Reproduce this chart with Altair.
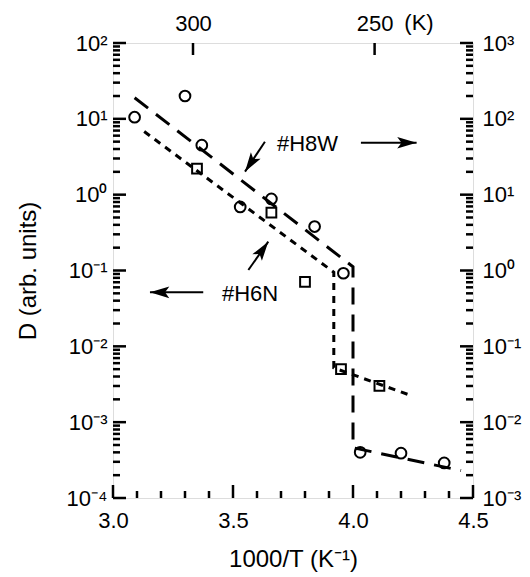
import math
import altair as alt
import pandas as pd

FONT = "Liberation Sans"

# ---------------- data ----------------
# #H8W : circles, plotted against the right-hand axis
H8W_INV_T = [3.09, 3.30, 3.37, 3.53, 3.66, 3.84, 3.96, 4.03, 4.20, 4.38]
H8W_D = [105, 200, 45, 6.9, 8.8, 3.8, 0.92, 0.0040, 0.0039, 0.0029]
H8W_FIT_INV_T = [3.09, 4.00, 4.00, 4.45]
H8W_FIT_D = [190, 1.12, 0.0046, 0.0023]

# #H6N : squares, plotted against the left-hand axis
H6N_INV_T = [3.35, 3.66, 3.80, 3.95, 4.11]
H6N_D = [2.2, 0.58, 0.071, 0.0050, 0.0030]
H6N_FIT_INV_T = [3.13, 3.92, 3.92, 4.25]
H6N_FIT_D = [6.8, 0.095, 0.0052, 0.0022]

# axes
X_DOMAIN = [3.0, 4.5]
LEFT_DOMAIN = [1e-4, 1e2]
RIGHT_DOMAIN = [1e-3, 1e3]
X_LABELS = [3.0, 3.5, 4.0, 4.5]
LEFT_DECADES = list(range(-4, 3))
RIGHT_DECADES = list(range(-3, 4))
TOP_T_LABELS = [300, 250]
TOP_T_POS = [1000 / 300, 4.09]

# annotations (left-axis units)
NOTE_TEXT = ["#H8W", "#H6N"]
NOTE_X = [3.683, 3.454]
NOTE_Y = [4.59, 0.0497]
ARROW_X0 = [3.633, 4.033, 3.376, 3.564]
ARROW_Y0 = [4.99, 4.84, 0.0515, 0.1016]
ARROW_X1 = [3.55, 4.265, 3.154, 3.647]
ARROW_Y1 = [2.01, 4.84, 0.0515, 0.24]

# ---------------- layout ----------------
W, H = 360, 455
MAJ, MIN = 13, 7
TICK_W = 2.5
LBL, TTL = 22, 24


def px(xv, yv):
    return ((xv - X_DOMAIN[0]) / (X_DOMAIN[1] - X_DOMAIN[0]) * W,
            (math.log10(LEFT_DOMAIN[1]) - math.log10(yv))
            / (math.log10(LEFT_DOMAIN[1]) - math.log10(LEFT_DOMAIN[0])) * H)


xs = alt.Scale(domain=X_DOMAIN, nice=False, zero=False)
ysL = alt.Scale(type="log", domain=LEFT_DOMAIN, nice=False)
ysR = alt.Scale(type="log", domain=RIGHT_DOMAIN, nice=False)

SUP = ("'10' + replace(replace(replace(replace(replace(replace(replace("
       "'' + round(log(datum.value) / LN10), '-', '⁻'), '0', '⁰'), '1', '¹'),"
       " '2', '²'), '3', '³'), '4', '⁴'), '5', '⁵')")

common = dict(ticks=False, domain=False, grid=False, labelFlush=False,
              labelOverlap=False, labelFont=FONT, titleFont=FONT,
              labelFontSize=LBL, titleFontSize=TTL, titleFontWeight="normal",
              labelColor="black", titleColor="black")

ax_bottom = alt.Axis(title="1000/T  (K⁻¹)", values=X_LABELS, format=".1f",
                     labelPadding=12, titlePadding=16, orient="bottom", **common)
ax_top = alt.Axis(title=None, values=TOP_T_POS, orient="top", labelPadding=8,
                  labelExpr="datum.value < 3.7 ? '%d' : '%d'" % tuple(TOP_T_LABELS),
                  **common)
ax_left = alt.Axis(title="D (arb. units)", values=[10.0 ** d for d in LEFT_DECADES],
                   labelExpr=SUP, labelPadding=6, titlePadding=26, orient="left",
                   **common)
ax_right = alt.Axis(title=None, values=[10.0 ** d for d in RIGHT_DECADES],
                    labelExpr=SUP, labelPadding=9, orient="right", **common)

XL = alt.X("x:Q", scale=xs, axis=ax_bottom)
YL = alt.Y("y:Q", scale=ysL, axis=ax_left)
XR = alt.X("x:Q", scale=xs, axis=ax_top)
YR = alt.Y("y:Q", scale=ysR, axis=ax_right)

# ---------------- data frames ----------------
h6n = pd.DataFrame({"x": H6N_INV_T, "y": H6N_D})
h6n_fit = pd.DataFrame({"x": H6N_FIT_INV_T, "y": H6N_FIT_D, "i": range(len(H6N_FIT_D))})
h8w = pd.DataFrame({"x": H8W_INV_T, "y": H8W_D})
h8w_fit = pd.DataFrame({"x": H8W_FIT_INV_T, "y": H8W_FIT_D, "i": range(len(H8W_FIT_D))})

left_major = pd.DataFrame({"y": [10.0 ** d for d in LEFT_DECADES]})
left_minor = pd.DataFrame({"y": [k * 10.0 ** d for d in LEFT_DECADES[:-1] for k in range(2, 10)]})
right_major = pd.DataFrame({"y": [10.0 ** d for d in RIGHT_DECADES]})
right_minor = pd.DataFrame({"y": [k * 10.0 ** d for d in RIGHT_DECADES[:-1] for k in range(2, 10)]})
xt = [round(X_DOMAIN[0] + 0.1 * i, 1) for i in range(16)]
bottom_major = pd.DataFrame({"x": [v for v in xt if abs(v * 2 - round(v * 2)) < 1e-9]})
bottom_minor = pd.DataFrame({"x": [v for v in xt if abs(v * 2 - round(v * 2)) > 1e-9]})
top_ticks = pd.DataFrame({"x": TOP_T_POS})

notes = pd.DataFrame({"x": NOTE_X, "y": NOTE_Y, "t": NOTE_TEXT})
angles = []
for a, b, c, d in zip(ARROW_X0, ARROW_Y0, ARROW_X1, ARROW_Y1):
    p0, p1 = px(a, b), px(c, d)
    angles.append(math.degrees(math.atan2(p1[1] - p0[1], p1[0] - p0[0])) % 360)
arrows = pd.DataFrame({"x": ARROW_X0, "y": ARROW_Y0, "x2": ARROW_X1, "y2": ARROW_Y1})
heads = pd.DataFrame({"x": ARROW_X1, "y": ARROW_Y1, "ang": angles})

HEAD = "M0,0 L-1,-0.3 L-0.78,0 L-1,0.3 Z"

# ---------------- left-axis layer ----------------
L = alt.layer(
    alt.Chart(h6n).mark_point(shape="square", filled=False, size=95, strokeWidth=2,
                              color="black", opacity=1).encode(x=XL, y=YL),
    alt.Chart(h6n_fit).mark_line(color="black", strokeWidth=3, strokeDash=[7, 6]).encode(
        x=XL, y=YL, order="i:Q"),
    alt.Chart(left_major).mark_rule(color="black", strokeWidth=TICK_W).encode(
        y=YL, x=alt.value(0), x2=alt.value(MAJ)),
    alt.Chart(left_minor).mark_rule(color="black", strokeWidth=TICK_W).encode(
        y=YL, x=alt.value(0), x2=alt.value(MIN)),
    alt.Chart(bottom_major).mark_rule(color="black", strokeWidth=TICK_W).encode(
        x=XL, y=alt.value(H), y2=alt.value(H - MAJ)),
    alt.Chart(bottom_minor).mark_rule(color="black", strokeWidth=TICK_W).encode(
        x=XL, y=alt.value(H), y2=alt.value(H - MIN)),
    alt.Chart(notes).mark_text(align="left", baseline="middle", font=FONT, fontSize=LBL,
                               color="black").encode(x=XL, y=YL, text="t:N"),
    alt.Chart(arrows).mark_rule(color="black", strokeWidth=2).encode(
        x=XL, y=YL, x2="x2:Q", y2="y2:Q"),
    alt.Chart(heads).mark_point(shape=HEAD, filled=True, size=1500, color="black",
                                opacity=1, strokeWidth=0).encode(
        x=XL, y=YL, angle=alt.Angle("ang:Q", scale=None)),
)

# ---------------- right-axis / top-axis layer ----------------
R = alt.layer(
    alt.Chart(h8w).mark_point(shape="circle", filled=False, size=115, strokeWidth=2,
                              color="black", opacity=1).encode(x=XR, y=YR),
    alt.Chart(h8w_fit).mark_line(color="black", strokeWidth=3, strokeDash=[17, 10]).encode(
        x=XR, y=YR, order="i:Q"),
    alt.Chart(right_major).mark_rule(color="black", strokeWidth=TICK_W).encode(
        y=YR, x=alt.value(W), x2=alt.value(W - MAJ)),
    alt.Chart(right_minor).mark_rule(color="black", strokeWidth=TICK_W).encode(
        y=YR, x=alt.value(W), x2=alt.value(W - MIN)),
    alt.Chart(top_ticks).mark_rule(color="black", strokeWidth=TICK_W).encode(
        x=XR, y=alt.value(0), y2=alt.value(12)),
    alt.Chart(pd.DataFrame({"x": [4.275], "t": ["(K)"]})).mark_text(
        align="center", baseline="middle", font=FONT, fontSize=LBL, color="black").encode(
        x=XR, y=alt.value(-20.5), text="t:N"),
)

chart = (
    alt.layer(L, R)
    .resolve_scale(x="independent", y="independent")
    .properties(width=W, height=H,
                autosize=alt.AutoSizeParams(type="none"),
                padding={"left": 105, "top": 35, "right": 49, "bottom": 76})
    .configure_view(stroke="black", strokeWidth=2.5)
    .configure(background="white")
)

chart.save("out.html", embed_options={"renderer": "svg", "actions": False})
